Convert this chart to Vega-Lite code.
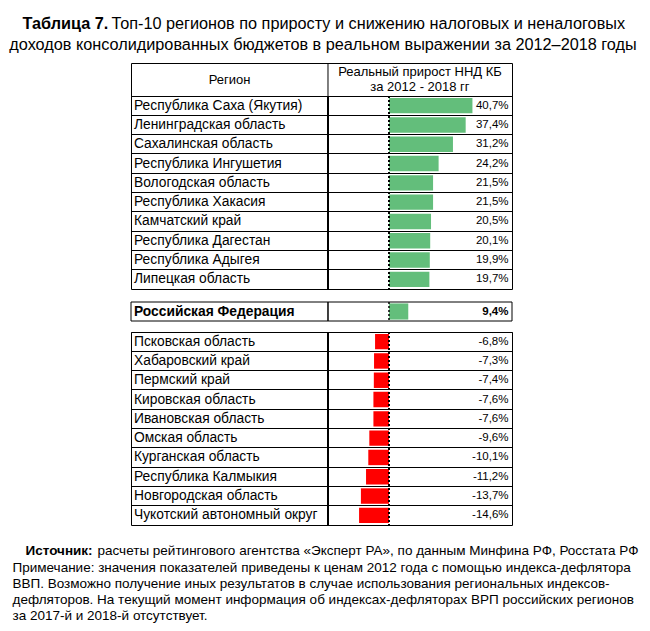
{
  "$schema": "https://vega.github.io/schema/vega-lite/v6.json",
  "background": "white",
  "autosize": {"type": "none"},
  "padding": {"left": 131, "top": 63, "right": 519, "bottom": 568},
  "datasets": {
    "rows": [
      {"grp": "top", "region": "Республика Саха (Якутия)", "value": 0.407},
      {"grp": "top", "region": "Ленинградская область", "value": 0.374},
      {"grp": "top", "region": "Сахалинская область", "value": 0.312},
      {"grp": "top", "region": "Республика Ингушетия", "value": 0.242},
      {"grp": "top", "region": "Вологодская область", "value": 0.215},
      {"grp": "top", "region": "Республика Хакасия", "value": 0.215},
      {"grp": "top", "region": "Камчатский край", "value": 0.205},
      {"grp": "top", "region": "Республика Дагестан", "value": 0.201},
      {"grp": "top", "region": "Республика Адыгея", "value": 0.199},
      {"grp": "top", "region": "Липецкая область", "value": 0.197},
      {"grp": "rf", "region": "Российская Федерация", "value": 0.094},
      {"grp": "bot", "region": "Псковская область", "value": -0.068},
      {"grp": "bot", "region": "Хабаровский край", "value": -0.073},
      {"grp": "bot", "region": "Пермский край", "value": -0.074},
      {"grp": "bot", "region": "Кировская область", "value": -0.076},
      {"grp": "bot", "region": "Ивановская область", "value": -0.076},
      {"grp": "bot", "region": "Омская область", "value": -0.096},
      {"grp": "bot", "region": "Курганская область", "value": -0.101},
      {"grp": "bot", "region": "Республика Калмыкия", "value": -0.112},
      {"grp": "bot", "region": "Новгородская область", "value": -0.137},
      {"grp": "bot", "region": "Чукотский автономный округ", "value": -0.146}
    ]
  },
  "data": {"name": "rows"},
  "bounds": "flush",
  "spacing": 0,
  "vconcat": [
    {
      "width": 381,
      "height": 33,
      "data": {"values": [{}]},
      "layer": [
        {
          "mark": {"type": "rule", "color": "black", "strokeWidth": 1},
          "encoding": {
            "x": {
              "datum": -0.2976, "type": "quantitative",
              "scale": {"domain": [-1.2585, 0.6], "nice": false, "zero": false},
              "axis": {
                "orient": "top", "domain": false, "ticks": false, "labels": false, "grid": false,
                "title": "доходов консолидированных бюджетов в реальном выражении за 2012–2018 годы",
                "titleX": 191.5, "titleY": -14, "titleAlign": "center", "titleBaseline": "alphabetic",
                "titleFont": "Liberation Sans", "titleFontSize": 16.25, "titleFontWeight": "normal", "titleColor": "black"
              }
            }
          }
        },
        {
          "mark": {"type": "text", "font": "Liberation Sans", "fontSize": 13, "color": "black", "baseline": "middle", "align": "center"},
          "encoding": {
            "x": {"datum": -0.778, "type": "quantitative", "scale": {"domain": [-1.2585, 0.6], "nice": false, "zero": false}},
            "text": {"value": "Регион"}
          }
        },
        {
          "mark": {"type": "text", "font": "Liberation Sans", "fontSize": 13, "color": "black", "baseline": "middle", "align": "center", "lineHeight": 15.5, "dy": -8},
          "encoding": {
            "x": {"datum": 0.151, "type": "quantitative", "scale": {"domain": [-1.2585, 0.6], "nice": false, "zero": false}},
            "text": {"value": ["Реальный прирост ННД КБ", "за 2012 - 2018 гг"]}
          }
        }
      ]
    },
    {
      "width": 381,
      "height": 193,
      "transform": [{"filter": "datum.grp == 'top'"}],
      "layer": [
        {
          "mark": {"type": "bar", "height": {"band": 0.8}},
          "encoding": {
            "y": {
              "field": "region", "type": "nominal", "sort": null, "title": null,
              "scale": {"paddingInner": 0, "paddingOuter": 0},
              "axis": {"grid": true, "gridColor": "black", "gridOpacity": 1, "gridWidth": 1, "bandPosition": 0, "domain": false, "ticks": false, "labels": false}
            },
            "x": {
              "field": "value", "type": "quantitative",
              "scale": {"domain": [-1.2585, 0.6], "nice": false, "zero": false},
              "axis": {
                "orient": "top", "domain": false, "ticks": false, "labels": false, "grid": false,
                "title": "Таблица 7.",
                "titleX": -109, "titleY": -68, "titleAlign": "left", "titleBaseline": "alphabetic",
                "titleFont": "Liberation Sans", "titleFontSize": 16.25, "titleFontWeight": "bold", "titleColor": "black"
              }
            },
            "x2": {"datum": 0},
            "color": {"condition": {"test": "datum.value < 0", "value": "#FF0000"}, "value": "#63BE7B"}
          }
        },
        {
          "mark": {"type": "rule", "color": "black", "strokeWidth": 1, "strokeDash": [2, 2]},
          "encoding": {"x": {"datum": 0, "type": "quantitative", "scale": {"domain": [-1.2585, 0.6], "nice": false, "zero": false}}}
        },
        {
          "mark": {"type": "rule", "color": "black", "strokeWidth": 1},
          "encoding": {"x": {"datum": -0.2976, "type": "quantitative", "scale": {"domain": [-1.2585, 0.6], "nice": false, "zero": false}}}
        },
        {
          "mark": {"type": "text", "align": "left", "baseline": "middle", "dx": 3, "font": "Liberation Sans", "fontSize": 13.8, "color": "black"},
          "encoding": {
            "x": {"datum": -1.2585, "type": "quantitative", "scale": {"domain": [-1.2585, 0.6], "nice": false, "zero": false}},
            "y": {"field": "region", "type": "nominal", "sort": null, "title": null},
            "text": {"field": "region"}
          }
        },
        {
          "mark": {"type": "text", "align": "right", "baseline": "middle", "dx": -3.5, "font": "Liberation Sans", "fontSize": 11.5, "color": "black"},
          "encoding": {
            "x": {"datum": 0.6, "type": "quantitative", "scale": {"domain": [-1.2585, 0.6], "nice": false, "zero": false}},
            "y": {"field": "region", "type": "nominal", "sort": null, "title": null},
            "text": {"field": "value", "type": "quantitative", "format": ".1%"}
          }
        }
      ]
    },
    {
      "width": 381,
      "height": 43,
      "view": {"stroke": null},
      "transform": [{"filter": "datum.grp == 'rf'"}],
      "layer": [
        {
          "mark": {"type": "bar", "height": {"band": 0.85}},
          "encoding": {
            "y": {
              "field": "region", "type": "nominal", "sort": null,
              "scale": {"paddingInner": 0, "paddingOuter": 0.6316, "align": 0.5417},
              "axis": {
                "grid": false, "domain": false, "ticks": false, "labels": false,
                "title": "расчеты рейтингового агентства «Эксперт РА», по данным Минфина РФ, Росстата РФ",
                "titleAngle": 0, "titleX": -34, "titleY": 265.5, "titleAlign": "left", "titleBaseline": "alphabetic",
                "titleFont": "Liberation Sans", "titleFontSize": 13.5, "titleFontWeight": "normal", "titleColor": "black"
              }
            },
            "x": {
              "field": "value", "type": "quantitative",
              "scale": {"domain": [-1.2585, 0.6], "nice": false, "zero": false},
              "axis": {
                "orient": "top", "domain": false, "ticks": false, "labels": false, "grid": false,
                "title": "Топ-10 регионов по приросту и снижению налоговых и неналоговых",
                "titleX": -20, "titleY": -261, "titleAlign": "left", "titleBaseline": "alphabetic",
                "titleFont": "Liberation Sans", "titleFontSize": 16.25, "titleFontWeight": "normal", "titleColor": "black"
              }
            },
            "x2": {"datum": 0},
            "color": {"condition": {"test": "datum.value < 0", "value": "#FF0000"}, "value": "#63BE7B"}
          }
        },
        {
          "mark": {"type": "bar", "filled": false, "color": "black", "strokeWidth": 1, "strokeDash": [2, 2]},
          "encoding": {
            "y": {"field": "region", "type": "nominal", "sort": null},
            "x": {"datum": 0, "type": "quantitative", "scale": {"domain": [-1.2585, 0.6], "nice": false, "zero": false}},
            "x2": {"datum": 0}
          }
        },
        {
          "mark": {"type": "bar", "filled": false, "color": "black", "strokeWidth": 1},
          "encoding": {
            "y": {"field": "region", "type": "nominal", "sort": null},
            "x": {"datum": -0.2976, "type": "quantitative", "scale": {"domain": [-1.2585, 0.6], "nice": false, "zero": false}},
            "x2": {"datum": -0.2976}
          }
        },
        {
          "mark": {"type": "bar", "filled": false, "color": "black", "strokeWidth": 1},
          "encoding": {
            "y": {"field": "region", "type": "nominal", "sort": null},
            "x": {"datum": -1.2585, "type": "quantitative", "scale": {"domain": [-1.2585, 0.6], "nice": false, "zero": false}},
            "x2": {"datum": 0.6}
          }
        },
        {
          "mark": {"type": "text", "align": "left", "baseline": "middle", "dx": 3, "font": "Liberation Sans", "fontSize": 13.8, "fontWeight": "bold", "color": "black"},
          "encoding": {
            "x": {"datum": -1.2585, "type": "quantitative", "scale": {"domain": [-1.2585, 0.6], "nice": false, "zero": false}},
            "y": {"field": "region", "type": "nominal", "sort": null},
            "text": {"field": "region"}
          }
        },
        {
          "mark": {"type": "text", "align": "right", "baseline": "middle", "dx": -3.5, "font": "Liberation Sans", "fontSize": 11.5, "fontWeight": "bold", "color": "black"},
          "encoding": {
            "x": {"datum": 0.6, "type": "quantitative", "scale": {"domain": [-1.2585, 0.6], "nice": false, "zero": false}},
            "y": {"field": "region", "type": "nominal", "sort": null},
            "text": {"field": "value", "type": "quantitative", "format": ".1%"}
          }
        }
      ]
    },
    {
      "width": 381,
      "height": 193,
      "transform": [{"filter": "datum.grp == 'bot'"}],
      "layer": [
        {
          "mark": {"type": "bar", "height": {"band": 0.8}},
          "encoding": {
            "y": {
              "field": "region", "type": "nominal", "sort": null,
              "scale": {"paddingInner": 0, "paddingOuter": 0},
              "axis": {
                "grid": true, "gridColor": "black", "gridOpacity": 1, "gridWidth": 1, "bandPosition": 0,
                "domain": false, "ticks": false, "labels": false,
                "title": "Источник:",
                "titleAngle": 0, "titleX": -106, "titleY": 222.5, "titleAlign": "left", "titleBaseline": "alphabetic",
                "titleFont": "Liberation Sans", "titleFontSize": 13.5, "titleFontWeight": "bold", "titleColor": "black"
              }
            },
            "x": {
              "field": "value", "type": "quantitative",
              "scale": {"domain": [-1.2585, 0.6], "nice": false, "zero": false},
              "axis": {
                "orient": "bottom", "domain": false, "ticks": false, "labels": false, "grid": false,
                "title": [
                  "Примечание: значения показателей приведены к ценам 2012 года с помощью индекса-дефлятора",
                  "ВВП. Возможно получение иных результатов в случае использования региональных индексов-",
                  "дефляторов. На текущий момент информация об индексах-дефляторах ВРП российских регионов",
                  "за 2017-й и 2018-й отсутствует."
                ],
                "titleX": -119, "titleY": 46, "titleAlign": "left", "titleBaseline": "alphabetic", "titleLineHeight": 16.25,
                "titleFont": "Liberation Sans", "titleFontSize": 13.5, "titleFontWeight": "normal", "titleColor": "black"
              }
            },
            "x2": {"datum": 0},
            "color": {"condition": {"test": "datum.value < 0", "value": "#FF0000"}, "value": "#63BE7B"}
          }
        },
        {
          "mark": {"type": "rule", "color": "black", "strokeWidth": 1, "strokeDash": [2, 2]},
          "encoding": {"x": {"datum": 0, "type": "quantitative", "scale": {"domain": [-1.2585, 0.6], "nice": false, "zero": false}}}
        },
        {
          "mark": {"type": "rule", "color": "black", "strokeWidth": 1},
          "encoding": {"x": {"datum": -0.2976, "type": "quantitative", "scale": {"domain": [-1.2585, 0.6], "nice": false, "zero": false}}}
        },
        {
          "mark": {"type": "text", "align": "left", "baseline": "middle", "dx": 3, "font": "Liberation Sans", "fontSize": 13.8, "color": "black"},
          "encoding": {
            "x": {"datum": -1.2585, "type": "quantitative", "scale": {"domain": [-1.2585, 0.6], "nice": false, "zero": false}},
            "y": {"field": "region", "type": "nominal", "sort": null},
            "text": {"field": "region"}
          }
        },
        {
          "mark": {"type": "text", "align": "right", "baseline": "middle", "dx": -3.5, "font": "Liberation Sans", "fontSize": 11.5, "color": "black"},
          "encoding": {
            "x": {"datum": 0.6, "type": "quantitative", "scale": {"domain": [-1.2585, 0.6], "nice": false, "zero": false}},
            "y": {"field": "region", "type": "nominal", "sort": null},
            "text": {"field": "value", "type": "quantitative", "format": ".1%"}
          }
        }
      ]
    }
  ],
  "config": {
    "view": {"stroke": "black", "strokeWidth": 1},
    "locale": {"number": {"decimal": ",", "thousands": " ", "grouping": [3], "currency": ["", ""], "minus": "-"}}
  }
}
